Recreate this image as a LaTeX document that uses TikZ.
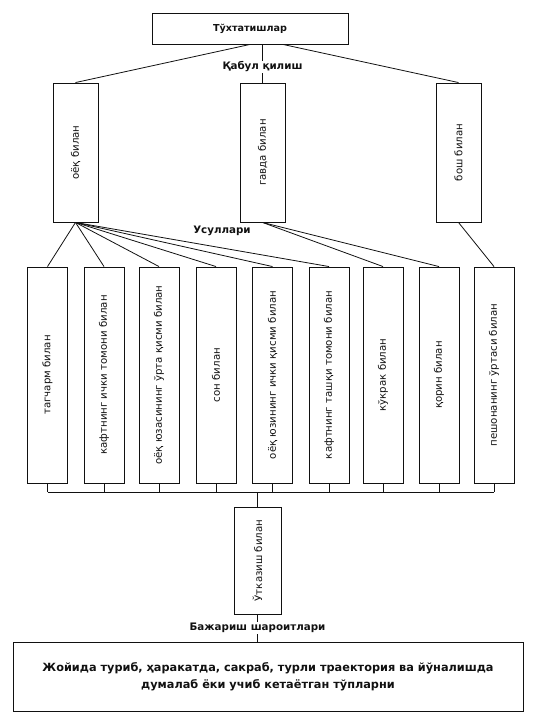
\documentclass[tikz,border=0pt]{standalone}
\usepackage{fontspec}
\setmainfont{DejaVu Sans}
\usepackage{xcolor}
\usepackage{tikz}
\definecolor{ink}{HTML}{111111}
\tikzset{
  box/.style={draw=ink,line width=.9pt,fill=white,inner sep=0pt,text=ink},
  headbox/.style={box,minimum width=196pt,minimum height=31pt,font=\bfseries\fontsize{9.6}{12}\selectfont},
  waybox/.style={box,minimum width=45pt,minimum height=139pt,font=\fontsize{10.2}{12}\selectfont},
  methodbox/.style={box,minimum width=40pt,minimum height=216pt,font=\fontsize{10.2}{12}\selectfont},
  passbox/.style={box,minimum width=47pt,minimum height=107pt,font=\fontsize{10.2}{12}\selectfont},
  condbox/.style={box,minimum width=510pt,minimum height=69pt,align=center,font=\bfseries\fontsize{11.3}{17}\selectfont},
  tag/.style={font=\bfseries\fontsize{10.3}{12}\selectfont,inner sep=1pt,text=ink},
  link/.style={draw=ink,line width=.8pt},
}
\newcommand{\up}[1]{\rotatebox{90}{#1}}

\begin{document}
\begin{tikzpicture}[x=1pt,y=1pt]
  \useasboundingbox (0,0) rectangle (538,-720);
  \node[headbox] (stop) at (250,-28.5) {Тўхтатишлар};

  \node[waybox] (ojoq) at (75.5,-152.5) {\up{оёқ билан}};
  \node[waybox] (gavda) at (262.5,-152.5) {\up{гавда билан}};
  \node[waybox] (bosh) at (458.5,-152.5) {\up{бош билан}};
  \draw[link] (stop.south) -- (ojoq.north);
  \draw[link] (stop.south -| gavda.north) -- node[tag,fill=white,pos=.59] (qabul) {Қабул қилиш} (gavda.north);
  \draw[link] ([xshift=33pt]stop.south) -- (bosh.north);

  \node[tag] (usul) at (222,-231) {Усуллари};

  \node[methodbox] (tag1) at (47.5,-375) {\up{тагчарм билан}};
  \node[methodbox] (kaft1) at (104,-375) {\up{кафтнинг ички томони билан}};
  \node[methodbox] (urta) at (159,-375) {\up{оёқ юзасининг ўрта қисми билан}};
  \node[methodbox] (son) at (216,-375) {\up{сон билан}};
  \node[methodbox] (ichki) at (272.5,-375) {\up{оёқ юзининг ички қисми билан}};
  \node[methodbox] (kaft2) at (329,-375) {\up{кафтнинг ташқи томони билан}};
  \node[methodbox] (kukrak) at (383,-375) {\up{кўкрак билан}};
  \node[methodbox] (qorin) at (439,-375) {\up{қорин билан}};
  \node[methodbox] (peshona) at (494,-375) {\up{пешонанинг ўртаси билан}};

  \draw[link] (ojoq.south) -- (tag1.north);
  \draw[link] (ojoq.south) -- (kaft1.north);
  \draw[link] (ojoq.south) -- (urta.north);
  \draw[link] (ojoq.south) -- (son.north);
  \draw[link] (ojoq.south) -- (ichki.north);
  \draw[link] (ojoq.south) -- (kaft2.north);
  \draw[link] (gavda.south) -- (kukrak.north);
  \draw[link] (gavda.south) -- (qorin.north);
  \draw[link] (bosh.south) -- (peshona.north);

  \coordinate (bus) at (0,-492);
  \node[passbox] (utkaz) at (257.5,-560.5) {\up{Ўтказиш билан}};
  \foreach \m in {tag1,kaft1,urta,son,ichki,kaft2,kukrak,qorin,peshona}
    \draw[link] (\m.south) -- (\m.south |- bus);
  \draw[link] (tag1.south |- bus) -- (peshona.south |- bus);
  \draw[link] (utkaz.north |- bus) -- (utkaz.north);

  \node[condbox] (cond) at (268,-676.5) {Жойида туриб, ҳаракатда, сакраб, турли траектория ва йўналишда\\думалаб ёки учиб кетаётган тўпларни};
  \draw[link] (utkaz.south) -- node[tag,fill=white] (bajar) {Бажариш шароитлари} (utkaz.south |- cond.north);
\end{tikzpicture}
\end{document}
